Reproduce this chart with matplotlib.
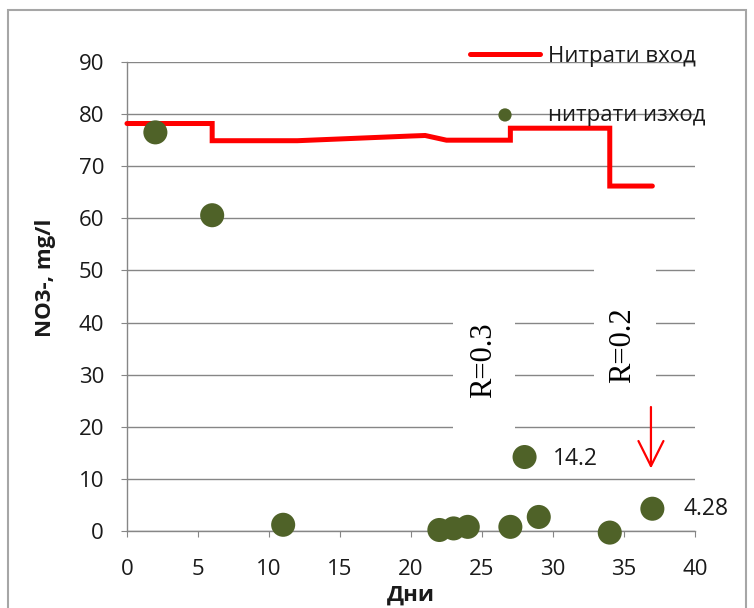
import numpy as np
import matplotlib.pyplot as plt
from matplotlib.patches import Rectangle

# inflow nitrate (step line)
inflow_days = [0, 6, 6, 12, 20, 21, 22.5, 27, 27, 34, 34, 37]
inflow_no3 = [78.2, 78.2, 74.9, 74.9, 75.8, 75.9, 75.0, 75.0, 77.3, 77.3, 66.2, 66.2]

# outflow nitrate (points)
out_days = [2, 6, 11, 22, 23, 24, 27, 28, 29, 34, 37]
out_no3 = [76.5, 60.6, 1.2, 0.2, 0.5, 0.8, 0.8, 14.2, 2.7, -0.3, 4.28]

x_ticks = [0, 5, 10, 15, 20, 25, 30, 35, 40]
y_ticks = [0, 10, 20, 30, 40, 50, 60, 70, 80, 90]

grey = '#868686'
green = '#4f6228'
red = '#ff0000'
txt = '#1a1a1a'

plt.rcParams['font.family'] = ['Open Sans', 'DejaVu Sans']

fig = plt.figure(figsize=(7.54, 6.08), dpi=100)
ax = fig.add_axes([0.1684, 0.1266, 0.7533, 0.7714])

# outer chart frame
fig.patches.append(Rectangle((8 / 754, -0.05), 738 / 754, 1.05 - 10 / 608,
                             transform=fig.transFigure, fill=False,
                             edgecolor='#a6a6a6', lw=1.5))

ax.set_xlim(0, 40)
ax.set_ylim(0, 90)
ax.set_xticks(x_ticks)
ax.set_yticks(y_ticks)
ax.set_axisbelow(True)
ax.grid(axis='y', color=grey, lw=1)
for s in ['top', 'right']:
    ax.spines[s].set_visible(False)
for s in ['left', 'bottom']:
    ax.spines[s].set_color(grey)
    ax.spines[s].set_linewidth(1)
ax.tick_params(direction='out', length=4.5, color=grey, labelsize=16,
               labelcolor=txt)
ax.tick_params(axis='x', pad=16)
ax.tick_params(axis='y', pad=12)

ax.plot(inflow_days, inflow_no3, color=red, lw=3.6, solid_capstyle='round',
        solid_joinstyle='miter', label='Нитрати вход', zorder=3, clip_on=False)
ax.scatter(out_days, out_no3, s=300, color=green, label='нитрати изход',
           zorder=4, clip_on=False, edgecolors='none')

# value labels
ax.annotate('14.2', (out_days[7], out_no3[7]), xytext=(28, -2),
            textcoords='offset pixels', ha='left', va='center', fontsize=16.5,
            color=txt)
ax.annotate('4.28', (out_days[10], out_no3[10]), xytext=(31, 0),
            textcoords='offset pixels', ha='left', va='center', fontsize=16.5,
            color=txt)

# white text boxes behind the R labels (they cut the gridlines)
ax.add_patch(Rectangle((22.95, 16.5), 4.35, 27.8, fc='white', ec='none', zorder=1.5))
ax.add_patch(Rectangle((32.9, 25.0), 4.35, 29.0, fc='white', ec='none', zorder=1.5))
ax.text(25.1, 32.8, 'R=0.3', rotation=90, ha='center', va='center',
        fontsize=22, family='Liberation Serif', zorder=2)
ax.text(34.9, 35.7, 'R=0.2', rotation=90, ha='center', va='center',
        fontsize=22, family='Liberation Serif', zorder=2)

# red arrow
ax.annotate('', xy=(36.9, 12.0), xytext=(36.9, 23.8),
            arrowprops=dict(arrowstyle='->,head_length=1.0,head_width=0.5',
                            color=red, lw=1.6, mutation_scale=18,
                            shrinkA=0, shrinkB=0))

ax.set_xlabel('Дни', fontsize=16, fontweight='bold', color=txt)
ax.set_ylabel('NO3-, mg/l', fontsize=16, fontweight='bold', color=txt)
ax.xaxis.set_label_coords(0.5, -0.114)
ax.yaxis.set_label_coords(-0.125, 0.54)

leg = ax.legend(loc='upper left', bbox_to_anchor=(470 / 754, 1 - 46 / 608),
                bbox_transform=fig.transFigure, frameon=False, fontsize=16,
                handlelength=3.15, handletextpad=0.36, labelspacing=1.7,
                borderpad=0, borderaxespad=0, markerscale=0.55)
for t in leg.get_texts():
    t.set_color(txt)

fig.savefig('out.png', dpi=100)
